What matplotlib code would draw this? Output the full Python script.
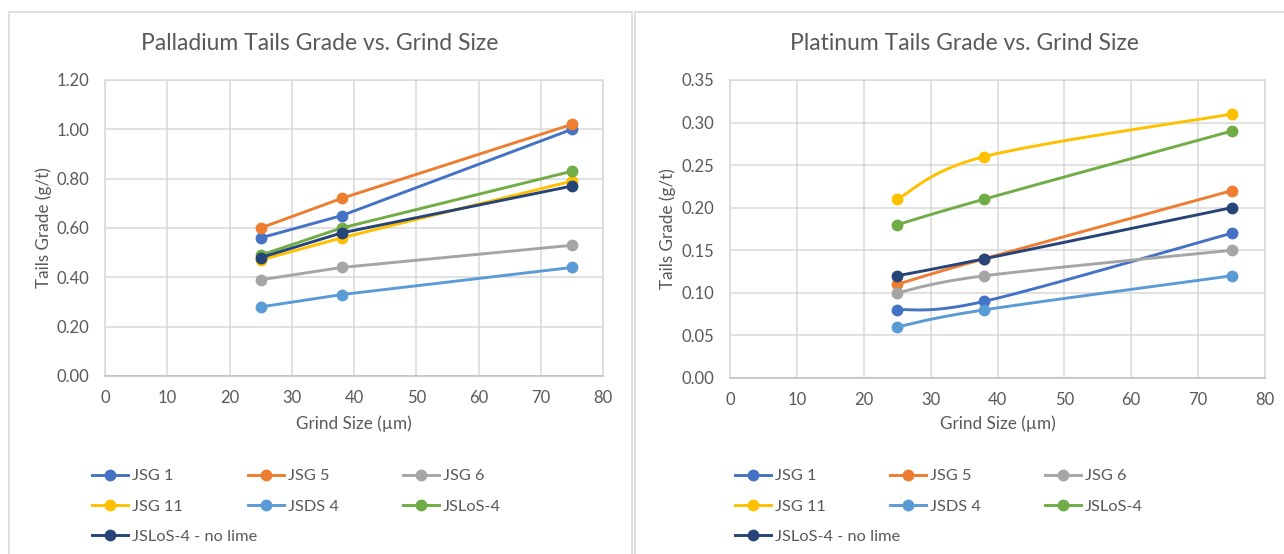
import numpy as np
import matplotlib
matplotlib.use("Agg")
import matplotlib.pyplot as plt
from matplotlib.lines import Line2D
from matplotlib.patches import Rectangle

plt.rcParams['font.family'] = ['Lato', 'DejaVu Sans']

# ---- data ----
grind_size = [25, 38, 75]
series_names = ["JSG 1", "JSG 5", "JSG 6", "JSG 11", "JSDS 4", "JSLoS-4", "JSLoS-4 - no lime"]
colors = ["#4472C4", "#ED7D31", "#A5A5A5", "#FFC000", "#5B9BD5", "#70AD47", "#264478"]

pd_jsg1 = [0.56, 0.65, 1.00]
pd_jsg5 = [0.60, 0.72, 1.02]
pd_jsg6 = [0.39, 0.44, 0.53]
pd_jsg11 = [0.47, 0.56, 0.79]
pd_jsds4 = [0.28, 0.33, 0.44]
pd_jslos4 = [0.49, 0.60, 0.83]
pd_jslos4_nolime = [0.48, 0.58, 0.77]

pt_jsg1 = [0.08, 0.09, 0.17]
pt_jsg5 = [0.11, 0.14, 0.22]
pt_jsg6 = [0.10, 0.12, 0.15]
pt_jsg11 = [0.21, 0.26, 0.31]
pt_jsds4 = [0.06, 0.08, 0.12]
pt_jslos4 = [0.18, 0.21, 0.29]
pt_jslos4_nolime = [0.12, 0.14, 0.20]

pd_series = [pd_jsg1, pd_jsg5, pd_jsg6, pd_jsg11, pd_jsds4, pd_jslos4, pd_jslos4_nolime]
pt_series = [pt_jsg1, pt_jsg5, pt_jsg6, pt_jsg11, pt_jsds4, pt_jslos4, pt_jslos4_nolime]

pd_yticks = [0.0, 0.2, 0.4, 0.6, 0.8, 1.0, 1.2]
pt_yticks = [0.0, 0.05, 0.10, 0.15, 0.20, 0.25, 0.30, 0.35]
xticks = [0, 10, 20, 30, 40, 50, 60, 70, 80]

TXT = "#595959"
GRID = "#D9D9D9"

W, H = 1284, 554
fig = plt.figure(figsize=(W / 100, H / 100), dpi=100)


def px(x0, y0, x1, y1):
    return [x0 / W, 1 - y1 / H, (x1 - x0) / W, (y1 - y0) / H]


def smooth(xs, ys, xr, yr, n=40):
    # Catmull-Rom smoothing in normalized axis space (Excel-like smoothed line)
    xs = np.asarray(xs, float) / xr
    ys = np.asarray(ys, float) / yr
    P = np.column_stack([xs, ys])
    P = np.vstack([P[0], P, P[-1]])
    out = []
    for i in range(1, len(P) - 2):
        p0, p1, p2, p3 = P[i - 1], P[i], P[i + 1], P[i + 2]
        t = np.linspace(0, 1, n)[:, None]
        c = 0.5 * ((2 * p1) + (-p0 + p2) * t + (2 * p0 - 5 * p1 + 4 * p2 - p3) * t ** 2
                   + (-p0 + 3 * p1 - 3 * p2 + p3) * t ** 3)
        out.append(c if i == 1 else c[1:])
    out = np.vstack(out)
    return out[:, 0] * xr, out[:, 1] * yr


def panel(rect, title, title_x, series, yticks, ymax, yfmt, smooth_lines, ylab_x, xlab_y):
    ax = fig.add_axes(rect)
    ax.set_xlim(0, 80)
    ax.set_ylim(0, ymax)
    ax.set_xticks(xticks)
    ax.set_yticks(yticks)
    ax.set_yticklabels([yfmt.format(v) for v in yticks])
    ax.grid(True, color=GRID, linewidth=1.1)
    ax.set_axisbelow(True)
    for s in ["top", "right", "left"]:
        ax.spines[s].set_color(GRID)
        ax.spines[s].set_linewidth(1.1)
    ax.spines["bottom"].set_color("#BFBFBF")
    ax.spines["bottom"].set_linewidth(1.1)
    ax.tick_params(length=0, labelsize=12, colors=TXT)
    ax.tick_params(axis="x", pad=10)
    ax.tick_params(axis="y", pad=11)
    handles = []
    for name, ys, c in zip(series_names, series, colors):
        if smooth_lines:
            sx, sy = smooth(grind_size, ys, 80, ymax * 0.6)
            ax.plot(sx, sy, color=c, lw=2.1, solid_capstyle="round")
        else:
            ax.plot(grind_size, ys, color=c, lw=2.1, solid_capstyle="round")
        ax.plot(grind_size, ys, linestyle="none", marker="o", ms=7.5, color=c, mec=c)
        handles.append(Line2D([], [], color=c, lw=2.1, marker="o", ms=7.5, mec=c))
    ax.set_ylabel("Tails Grade (g/t)", fontsize=12.3, color=TXT)
    ax.yaxis.set_label_coords(ylab_x, 0.5)
    ax.set_xlabel("Grind Size (µm)", fontsize=12.3, color=TXT)
    ax.xaxis.set_label_coords(0.5, xlab_y)
    fig.text(title_x / W, 1 - 44 / H, title, fontsize=16.5, color=TXT, ha="center", va="center")
    return handles


def legend_cols(handles, col_x, rows_top):
    cols = [[0, 3, 6], [1, 4], [2, 5]]
    for cx, idxs in zip(col_x, cols):
        fig.legend([handles[i] for i in idxs], [series_names[i] for i in idxs],
                   loc="upper left", bbox_to_anchor=(cx / W, 1 - rows_top / H),
                   frameon=False, fontsize=11.8, labelcolor=TXT,
                   handlelength=2.2, handletextpad=0.25, labelspacing=0.95,
                   borderpad=0, borderaxespad=0)


h1 = panel(px(105, 80, 603, 376), "Palladium Tails Grade vs. Grind Size", 320,
           pd_series, pd_yticks, 1.2, "{:.2f}", False, -0.106, -0.132)
h2 = panel(px(730, 80, 1265, 378), "Platinum Tails Grade vs. Grind Size", 964,
           pt_series, pt_yticks, 0.35, "{:.2f}", True, -0.101, -0.124)

legend_cols(h1, [92, 248, 403], 469)
legend_cols(h2, [735, 890, 1045], 469)

# chart borders
fig.patches.append(Rectangle((9 / W, -0.1), (632 - 9) / W, 1.1 - 12 / H,
                             transform=fig.transFigure, fill=False, ec=GRID, lw=1.2))
fig.patches.append(Rectangle((635 / W, -0.1), 1.0, 1.1 - 12 / H,
                             transform=fig.transFigure, fill=False, ec=GRID, lw=1.2))

fig.savefig("out.png", dpi=100)
